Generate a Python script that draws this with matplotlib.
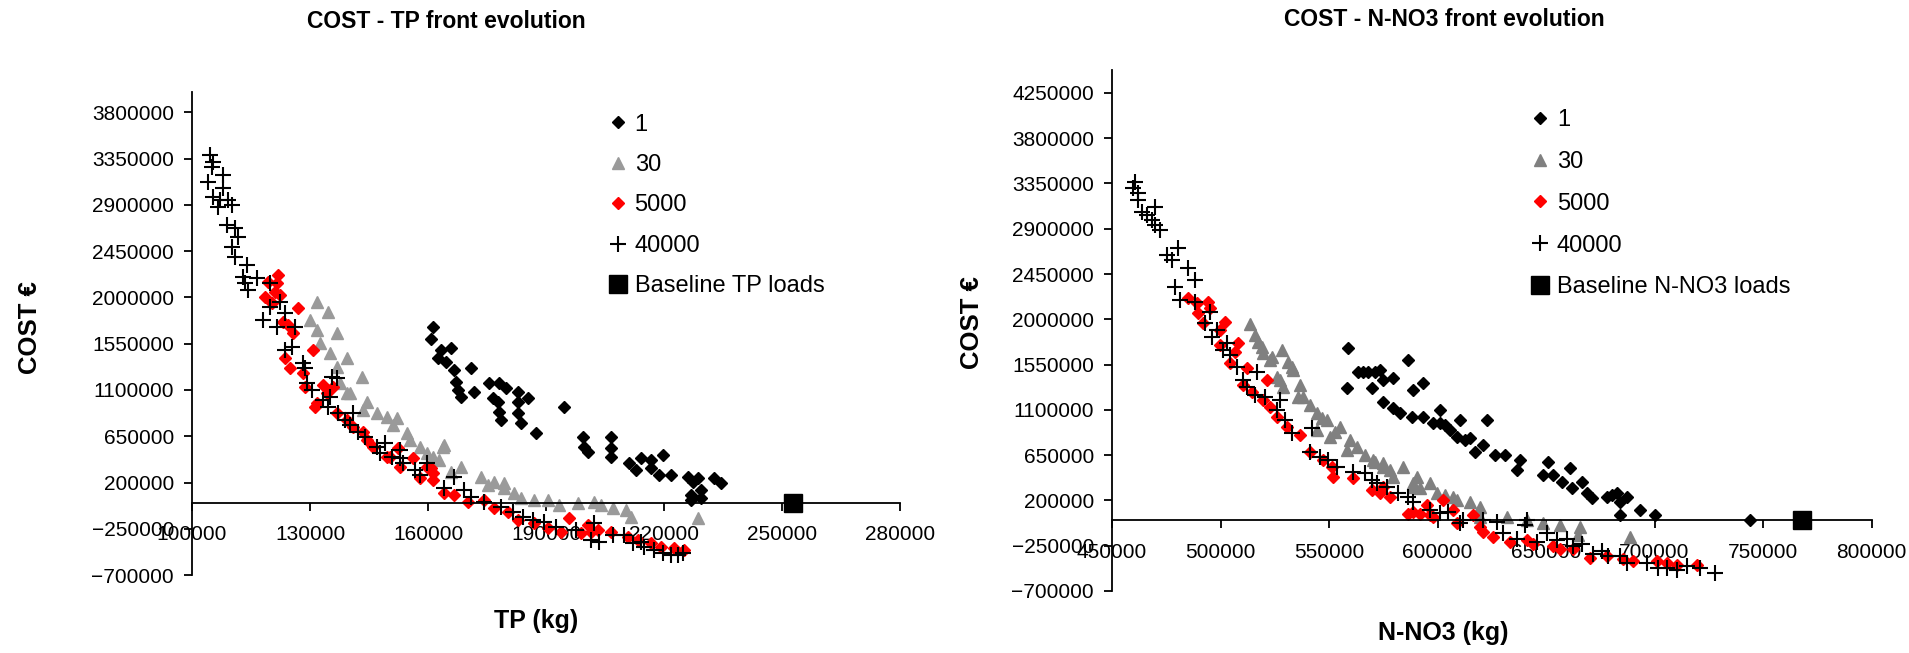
import matplotlib
matplotlib.use("Agg")
import matplotlib.pyplot as plt
from matplotlib.ticker import StrMethodFormatter

plt.rcParams['font.family'] = ['Liberation Sans', 'DejaVu Sans']

# ---- COST - TP front (x: TP kg, y: cost EUR) ----
tp_gen1 = [(161130, 1712000), (160620, 1596000), (163170, 1489000), (165710, 1508000), (162400, 1411000),
           (164440, 1372000), (166480, 1294000), (170810, 1314000), (166990, 1177000), (167500, 1100000),
           (168260, 1031000), (171570, 1080000), (175390, 1168000), (177940, 1168000), (179720, 1119000),
           (176410, 1022000), (177680, 983000), (182780, 1080000), (182780, 983000), (185320, 1022000),
           (177940, 885000), (178450, 808000), (182780, 876000), (183540, 778000), (187360, 681000),
           (194490, 934000), (199330, 642000), (199590, 545000), (200610, 496000), (206460, 642000),
           (206460, 535000), (206460, 448000), (211050, 389000), (212830, 321000), (214110, 438000),
           (216650, 418000), (216650, 341000), (219710, 467000), (218690, 272000), (221750, 272000),
           (226080, 253000), (228620, 243000), (227350, 204000), (232700, 243000), (234480, 195000),
           (226840, 78000), (229390, 126000), (229390, 49000), (226840, 29000)]
tp_gen30 = [(131840, 1956000), (134640, 1858000), (130050, 1781000), (136930, 1654000), (131840, 1683000),
            (132600, 1557000), (135150, 1460000), (139480, 1411000), (136930, 1323000), (143300, 1226000),
            (139480, 1070000), (144570, 983000), (143550, 905000), (147120, 876000), (149670, 837000),
            (151190, 759000), (155520, 613000), (154760, 681000), (158070, 545000), (163930, 564000),
            (161380, 448000), (168260, 350000), (165710, 302000), (173350, 253000), (176660, 204000),
            (179210, 146000), (181760, 97000), (183540, 49000), (186850, 29000), (190420, 29000),
            (193220, -19000), (198060, 0), (202130, 10000), (203920, -19000), (206970, -49000),
            (210280, -68000), (211560, -136000), (228620, -146000), (137700, 1168000), (140240, 1070000),
            (152210, 827000), (159850, 487000), (162660, 418000), (163680, 545000), (175140, 175000),
            (179210, 195000)]
tp_gen5000 = [(121900, 2218000), (121650, 2141000), (119360, 2150000), (121140, 2053000), (118590, 2004000),
              (122410, 2024000), (120380, 1946000), (127000, 1897000), (123180, 1761000), (124450, 1732000),
              (125720, 1654000), (130820, 1489000), (123690, 1411000), (124960, 1314000), (128270, 1265000),
              (128780, 1129000), (135910, 1129000), (134380, 1070000), (131330, 934000), (136930, 876000),
              (139480, 808000), (141010, 739000), (144570, 613000), (146100, 545000), (152470, 535000),
              (149670, 448000), (156290, 438000), (152980, 350000), (160620, 341000), (158070, 243000),
              (161380, 224000), (163930, 97000), (166480, 78000), (170040, 10000), (174120, 29000),
              (176660, -49000), (180230, -88000), (182780, -165000), (186850, -195000), (190420, -243000),
              (195770, -146000), (193730, -282000), (198820, -292000), (200610, -214000), (201370, -282000),
              (203150, -263000), (206460, -282000), (210790, -331000), (213340, -360000), (216650, -389000),
              (219200, -428000), (222510, -438000), (225060, -457000), (133370, 1148000), (131840, 973000),
              (143550, 691000), (150430, 448000), (159850, 350000), (161380, 292000)]
tp_gen40000 = [(104600, 3386000), (105350, 3318000), (105090, 3269000), (107900, 3191000), (104080, 3123000),
               (107900, 3065000), (105350, 2977000), (107130, 2948000), (109170, 2948000), (106620, 2880000),
               (110190, 2900000), (108910, 2705000), (110950, 2676000), (111720, 2588000), (110190, 2491000),
               (110950, 2394000), (114010, 2316000), (112990, 2199000), (116560, 2189000), (113500, 2141000),
               (114260, 2072000), (119870, 2141000), (122410, 1956000), (119870, 1907000), (118080, 1781000),
               (123690, 1849000), (121650, 1712000), (126230, 1712000), (125470, 1518000), (123690, 1489000),
               (128270, 1362000), (128780, 1314000), (135660, 1226000), (136930, 1216000), (129290, 1168000),
               (130560, 1100000), (133370, 1002000), (135150, 1031000), (134640, 934000), (137190, 876000),
               (141010, 876000), (138970, 808000), (140240, 759000), (142280, 691000), (144060, 642000),
               (147120, 545000), (149160, 584000), (147880, 487000), (150940, 448000), (152980, 516000),
               (152980, 438000), (153740, 389000), (156800, 321000), (159850, 389000), (158070, 272000),
               (166480, 253000), (163930, 146000), (169030, 126000), (170810, 58000), (174120, 10000),
               (178450, -39000), (181500, -88000), (184050, -136000), (186600, -165000), (189400, -185000),
               (192460, -234000), (197550, -263000), (202130, -195000), (201370, -360000), (203410, -379000),
               (206970, -311000), (209780, -311000), (214110, -379000), (214870, -428000), (217420, -457000),
               (219710, -487000), (221750, -506000), (223530, -506000), (224800, -487000), (212070, -389000)]
tp_baseline = [(252800, 0)]

# ---- COST - N-NO3 front (x: N-NO3 kg, y: cost EUR) ----
no3_gen1 = [(558700, 1715000), (563400, 1476000), (568000, 1476000), (573500, 1496000), (574900, 1396000),
            (579500, 1416000), (586400, 1595000), (558300, 1317000), (569800, 1317000), (588700, 1297000),
            (593300, 1367000), (574900, 1178000), (579500, 1118000), (582700, 1069000), (588200, 1029000),
            (593300, 1029000), (597900, 969000), (601100, 1098000), (601100, 969000), (605700, 900000),
            (610400, 999000), (609000, 830000), (615000, 820000), (617300, 681000), (622800, 999000),
            (621000, 750000), (626500, 651000), (631100, 651000), (638000, 601000), (636600, 502000),
            (650900, 581000), (648600, 452000), (653200, 452000), (661000, 522000), (657400, 383000),
            (662000, 323000), (666600, 383000), (668900, 273000), (671200, 224000), (678100, 234000),
            (682700, 273000), (684100, 184000), (687300, 234000), (680400, 253000), (684100, 55000),
            (693300, 104000), (700200, 55000), (744000, 5000), (565700, 1476000), (571200, 1476000),
            (603400, 949000), (612700, 800000)]
no3_gen30 = [(513600, 1953000), (515900, 1844000), (517300, 1774000), (528300, 1695000), (519600, 1665000),
             (522800, 1595000), (532900, 1526000), (526000, 1426000), (528800, 1327000), (535700, 1228000),
             (523700, 1625000), (533400, 1496000), (527400, 1396000), (538000, 1228000), (544500, 1069000),
             (549100, 999000), (555100, 929000), (544500, 900000), (550500, 830000), (562900, 731000),
             (558300, 701000), (570300, 601000), (574900, 532000), (584100, 532000), (579500, 432000),
             (588700, 373000), (596500, 373000), (599800, 273000), (607100, 234000), (615000, 184000),
             (619600, 134000), (574900, 572000), (590500, 432000), (588700, 333000), (609000, 204000),
             (619600, 35000), (632000, 35000), (641200, 5000), (648600, -25000), (656400, -45000),
             (665600, -65000), (664700, -144000), (688700, -164000), (519100, 1725000), (531100, 1576000),
             (536600, 1347000), (541200, 1148000), (546700, 1019000), (552700, 880000), (559600, 800000),
             (566600, 651000), (571200, 581000), (578100, 502000), (591900, 323000), (603400, 253000)]
no3_gen5000 = [(485000, 2212000), (489200, 2162000), (494200, 2172000), (489600, 2062000), (495200, 2112000),
               (491900, 1963000), (502100, 1973000), (499800, 1894000), (499800, 1745000), (508100, 1764000),
               (506700, 1675000), (504400, 1566000), (512200, 1516000), (521400, 1396000), (510400, 1347000),
               (514500, 1277000), (519600, 1198000), (522800, 1128000), (526000, 1029000), (530600, 929000),
               (536600, 850000), (541200, 681000), (547200, 601000), (551400, 532000), (551800, 432000),
               (561100, 422000), (569800, 303000), (573500, 273000), (578100, 234000), (574900, 333000),
               (588700, 84000), (595200, 154000), (597900, 35000), (602500, 204000), (609000, -25000),
               (616300, 55000), (596500, 55000), (607100, 104000), (619600, -65000), (586400, 65000),
               (591900, 65000), (621000, -114000), (625600, -164000), (633400, -214000), (641200, -194000),
               (644000, -234000), (653200, -253000), (656400, -283000), (662400, -283000), (670300, -373000),
               (678100, -353000), (685500, -383000), (690100, -403000), (701100, -403000), (705700, -423000),
               (710300, -443000), (719500, -443000)]
no3_gen40000 = [(460600, 3365000), (459700, 3305000), (462000, 3256000), (462000, 3186000), (469800, 3116000),
                (463800, 3067000), (466100, 3037000), (468400, 2987000), (469800, 2937000), (472100, 2888000),
                (480400, 2709000), (475300, 2639000), (477600, 2589000), (485000, 2510000), (488200, 2391000),
                (479000, 2321000), (481300, 2192000), (488200, 2172000), (495200, 2072000), (492900, 1963000),
                (498400, 1894000), (496100, 1824000), (503000, 1764000), (501100, 1695000), (504400, 1645000),
                (507600, 1526000), (516800, 1476000), (510400, 1396000), (512200, 1327000), (515900, 1247000),
                (520500, 1228000), (526000, 1098000), (527400, 1198000), (529700, 999000), (532900, 870000),
                (542200, 919000), (541200, 681000), (545800, 631000), (549500, 601000), (553700, 531000),
                (561100, 482000), (566600, 472000), (569800, 403000), (572100, 373000), (576700, 333000),
                (581800, 273000), (586400, 234000), (588700, 184000), (596500, 104000), (601100, 75000),
                (604800, 84000), (611700, 5000), (610400, -25000), (621000, 5000), (627400, -15000),
                (641200, 5000), (630200, -129000), (636600, -181000), (640300, -44000), (645800, -214000),
                (650400, -129000), (655000, -198000), (659700, -181000), (662400, -249000), (666600, -232000),
                (671600, -334000), (675800, -300000), (678600, -352000), (684100, -352000), (687300, -420000),
                (696500, -420000), (701600, -472000), (705700, -472000), (710300, -488000), (714900, -454000),
                (721000, -472000), (727900, -523000)]
no3_baseline = [(768000, 0)]

tp_xticks = list(range(100000, 280001, 30000))
tp_yticks = list(range(-700000, 3800001, 450000))
no3_xticks = list(range(450000, 800001, 50000))
no3_yticks = list(range(-700000, 4250001, 450000))


def xy(pairs):
    return [p[0] for p in pairs], [p[1] for p in pairs]


def front_panel(ax, gens, baseline, gray, base_label):
    ax.plot(*xy(gens[0]), 'D', color='black', ms=6.5, mec='black', label='1')
    ax.plot(*xy(gens[1]), '^', color=gray, ms=8, mec=gray, label='30')
    ax.plot(*xy(gens[2]), 'D', color='red', ms=6.5, mec='red', label='5000')
    ax.plot(*xy(gens[3]), '+', color='black', ms=11, mew=1.5, label='40000')
    ax.plot(*xy(baseline), 's', color='black', ms=12.5, label=base_label, clip_on=False)
    for s in ['top', 'right']:
        ax.spines[s].set_visible(False)
    ax.spines['bottom'].set_position(('data', 0))
    ax.spines['left'].set_linewidth(1.3)
    ax.spines['bottom'].set_linewidth(1.3)
    ax.tick_params(axis='both', direction='out', length=6, width=1.3, labelsize=15)
    ax.tick_params(axis='x', pad=10)
    ax.tick_params(axis='y', pad=7)
    ax.xaxis.set_major_formatter(StrMethodFormatter('{x:.0f}'))
    ax.yaxis.set_major_formatter(StrMethodFormatter('{x:.0f}'))


fig = plt.figure(figsize=(19.09, 6.53), dpi=100)

ax1 = fig.add_axes([0.1006, 0.1194, 0.3709, 0.7399])
front_panel(ax1, [tp_gen1, tp_gen30, tp_gen5000, tp_gen40000], tp_baseline, '#9a9a9a', 'Baseline TP loads')
ax1.set_xlim(100000, 280000)
ax1.set_ylim(-700000, 4000000)
ax1.set_xticks(tp_xticks)
ax1.set_yticks(tp_yticks)
ax1.set_ylabel('COST €', fontsize=18.5, fontweight='bold')
ax1.yaxis.set_label_coords(-0.212, 0.513)
ax1.legend(loc='upper left', bbox_to_anchor=(0.59, 0.955), frameon=False, fontsize=17,
           handlelength=0.7, handletextpad=0.35, labelspacing=0.78, borderpad=0, borderaxespad=0)

ax2 = fig.add_axes([0.5825, 0.0951, 0.3979, 0.7977])
front_panel(ax2, [no3_gen1, no3_gen30, no3_gen5000, no3_gen40000], no3_baseline, '#808080',
            'Baseline N-NO3 loads')
ax2.set_xlim(450000, 800000)
ax2.set_ylim(-700000, 4478000)
ax2.set_xticks(no3_xticks)
ax2.set_yticks(no3_yticks)
ax2.set_ylabel('COST €', fontsize=18.5, fontweight='bold')
ax2.yaxis.set_label_coords(-0.168, 0.516)
ax2.legend(loc='upper left', bbox_to_anchor=(0.553, 0.925), frameon=False, fontsize=17,
           handlelength=0.7, handletextpad=0.35, labelspacing=0.84, borderpad=0, borderaxespad=0)

fig.text(446 / 1909, 1 - 22 / 653, 'COST - TP front evolution', ha='center', va='center',
         fontsize=16.5, fontweight='bold')
fig.text(1444 / 1909, 1 - 20 / 653, 'COST - N-NO3 front evolution', ha='center', va='center',
         fontsize=16.5, fontweight='bold')
fig.text(536 / 1909, 1 - 621 / 653, 'TP (kg)', ha='center', va='center', fontsize=18, fontweight='bold')
fig.text(1443 / 1909, 1 - 633 / 653, 'N-NO3 (kg)', ha='center', va='center', fontsize=18, fontweight='bold')

fig.savefig('out.png', dpi=100)
